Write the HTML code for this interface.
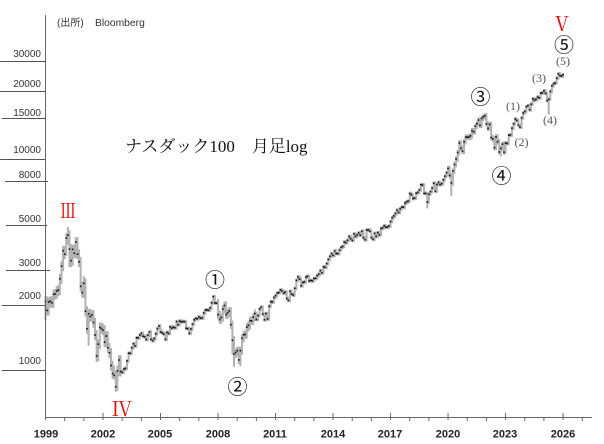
<!DOCTYPE html>
<html>
<head>
<meta charset="utf-8">
<style>
  html,body{margin:0;padding:0;background:#fff;}
  #wrap{position:relative;width:604px;height:444px;overflow:hidden;background:#fff;}
  svg{position:absolute;left:0;top:0;}
  .t{position:absolute;white-space:nowrap;line-height:1;}
  .c{transform:translate(-50%,-50%);}
  .yl{font-family:"Liberation Sans",sans-serif;font-size:10px;color:#333;text-align:right;width:40px;left:1px;transform:translateY(-50%);}
  .xl{font-family:"Liberation Sans",sans-serif;font-size:11px;font-weight:bold;color:#222;}
  .rom{font-family:"Noto Serif CJK JP","Liberation Serif",serif;font-size:20px;color:#f00;}
  .cir{font-family:"Noto Sans CJK JP",sans-serif;font-size:20px;color:#111;}
  .sm{font-family:"Liberation Serif",serif;font-size:12px;color:#555;}
</style>
</head>
<body>
<div id="wrap">
<svg id="chart" width="604" height="444" viewBox="0 0 604 444" xmlns="http://www.w3.org/2000/svg">
  <g id="bars"></g>
  <g stroke="#555" stroke-width="1" fill="none">
    <line x1="0" y1="61.5" x2="45" y2="61.5"/>
    <line x1="0" y1="91.5" x2="45" y2="91.5"/>
    <line x1="2" y1="118.5" x2="45" y2="118.5"/>
    <line x1="0" y1="159.5" x2="45" y2="159.5"/>
    <line x1="5" y1="181.5" x2="48" y2="181.5"/>
    <line x1="6" y1="225.5" x2="47" y2="225.5"/>
    <line x1="6" y1="270.5" x2="50" y2="270.5"/>
    <line x1="2" y1="305.5" x2="45" y2="305.5"/>
    <line x1="2" y1="370.5" x2="45" y2="370.5"/>
  </g>
  <g stroke="#666" stroke-width="1" fill="none">
    <line x1="45.5" y1="15" x2="45.5" y2="417.5"/>
    <line x1="45" y1="417.5" x2="592" y2="417.5"/>
  </g>
  <g id="ticks" stroke="#666" stroke-width="1"></g>
</svg>

<div class="t" style="left:57px;top:19px;font-family:'Liberation Sans','Noto Sans CJK JP',sans-serif;font-size:10px;color:#333;">(出所)</div>
<div class="t" style="left:95px;top:19px;font-family:'Liberation Sans',sans-serif;font-size:10.3px;color:#333;">Bloomberg</div>

<div class="t yl" style="top:55px;">30000</div>
<div class="t yl" style="top:85px;">20000</div>
<div class="t yl" style="top:114px;">15000</div>
<div class="t yl" style="top:151px;">10000</div>
<div class="t yl" style="top:176px;">8000</div>
<div class="t yl" style="top:220px;">5000</div>
<div class="t yl" style="top:264px;">3000</div>
<div class="t yl" style="top:297px;">2000</div>
<div class="t yl" style="top:362px;">1000</div>

<div class="t xl c" style="left:46px;top:435px;">1999</div>
<div class="t xl c" style="left:103px;top:435px;">2002</div>
<div class="t xl c" style="left:160px;top:435px;">2005</div>
<div class="t xl c" style="left:218px;top:435px;">2008</div>
<div class="t xl c" style="left:275px;top:435px;">2011</div>
<div class="t xl c" style="left:333px;top:435px;">2014</div>
<div class="t xl c" style="left:390px;top:435px;">2017</div>
<div class="t xl c" style="left:448px;top:435px;">2020</div>
<div class="t xl c" style="left:505px;top:435px;">2023</div>
<div class="t xl c" style="left:563px;top:435px;">2026</div>

<div class="t" style="left:125px;top:138px;font-family:'Liberation Serif','Noto Serif CJK JP',serif;font-size:17px;color:#111;">ナスダック100　月足log</div>

<div class="t rom" style="left:67.5px;top:210px;transform:translate(-50%,-50%) scaleX(0.78);">Ⅲ</div>
<div class="t rom c" style="left:122px;top:408px;">Ⅳ</div>
<div class="t rom c" style="left:562px;top:23px;">Ⅴ</div>

<div class="t cir c" style="left:215px;top:278.5px;">①</div>
<div class="t cir c" style="left:237.5px;top:386px;">②</div>
<div class="t cir c" style="left:480.5px;top:95.5px;">③</div>
<div class="t cir c" style="left:501.5px;top:175px;">④</div>
<div class="t cir c" style="left:564px;top:44px;">⑤</div>

<div class="t sm c" style="left:513px;top:106px;">(1)</div>
<div class="t sm c" style="left:521.5px;top:142px;">(2)</div>
<div class="t sm c" style="left:539px;top:78px;">(3)</div>
<div class="t sm c" style="left:550px;top:120px;">(4)</div>
<div class="t sm c" style="left:563px;top:61px;">(5)</div>
</div>

<script>
(function(){
  var closes=[
  2127,1925,2106,2131,2090,2296,2305,2380,2407,2721,3130,3708,
  3570,4267,4398,3774,3324,3763,3609,4077,3570,3283,2507,2341,
  2593,1908,1573,1855,1799,1830,1683,1469,1168,1329,1597,1577,
  1550,1359,1452,1277,1208,1051,962,942,832,990,1116,984,
  974,1009,1018,1106,1202,1201,1277,1334,1304,1425,1424,1468,
  1494,1450,1439,1398,1466,1517,1402,1380,1412,1489,1576,1621,
  1519,1504,1483,1400,1512,1494,1605,1581,1601,1590,1702,1645,
  1712,1697,1703,1700,1581,1575,1496,1569,1654,1736,1762,1757,
  1792,1767,1772,1872,1930,1935,1929,1977,2092,2239,2089,2085,
  1837,1739,1781,1953,2030,1837,1873,1911,1645,1385,1191,1212,
  1237,1118,1237,1418,1474,1477,1600,1632,1720,1716,1787,1860,
  1742,1819,1956,1995,1849,1736,1859,1752,2014,2120,2111,2218,
  2264,2331,2339,2409,2383,2322,2351,2195,2148,2373,2305,2278,
  2453,2677,2779,2713,2522,2616,2632,2772,2800,2660,2677,2661,
  2731,2739,2819,2866,2978,2910,3106,3087,3218,3372,3486,3592,
  3521,3697,3596,3591,3736,3850,3885,4082,4050,4158,4334,4236,
  4151,4459,4334,4414,4509,4397,4590,4274,4182,4649,4664,4593,
  4279,4202,4484,4341,4523,4418,4730,4771,4875,4801,4810,4864,
  5111,5330,5436,5584,5788,5647,5880,5988,5979,6248,6338,6397,
  6950,6854,6581,6605,6967,7040,7232,7651,7628,6967,6949,6330,
  6906,7097,7378,7781,7128,7671,7848,7663,7750,8083,8403,8733,
  9151,8461,7813,8890,9555,10157,10905,12111,11418,11052,12268,12888,
  12925,12909,13091,13861,13686,14554,14960,15583,14690,15850,16135,16320,
  14930,14237,14839,12855,12643,11503,12947,12272,10971,11406,11952,10940,
  12102,12043,13181,13246,14254,14945,15758,15501,14715,14410,15947,16826,
  17137,18044,18255,17441,18537,19683,19362,19575,20061,19890,20930,21012,
  21478,20885,19278,19571,21341,22679,23218,23415,24680,25858,25400,25250,
  25600];
  var ov={13:[4420,3500],14:[4816,3950],15:[4400,3100],16:[3800,3100],24:[2800,2200],27:[1950,1306],
          32:[1500,1090],43:[1050,900],45:[1050,795],117:[1700,1190],118:[1450,1036],122:[1260,1043],
          239:[7000,5896],254:[8650,6771],285:[11800,10440],315:[20000,16542]};
  function Y(v){return 370-(Math.log(v)/Math.LN10-3)*209.6;}
  function X(m){return 45.5+m*1.5975;}
  var g=document.getElementById("bars");
  var prev=1836;
  var html="";
  for(var m=0;m<closes.length;m++){
    var c=closes[m],o=prev;
    var yr=1999+Math.floor(m/12);
    var r=0.02;
    if(yr<=2002) r=0.055; else if(yr==2008||yr==2009) r=0.045; else if(yr>=2020&&yr<=2022) r=0.03;
    var h=Math.max(o,c)*(1+r), l=Math.min(o,c)*(1-r);
    if(ov[m]){h=Math.max(h,ov[m][0]);l=ov[m][1];}
    var x=X(m), yh=Y(h), yl=Y(l);
    html+='<rect x="'+(x-1).toFixed(2)+'" y="'+yh.toFixed(2)+'" width="2" height="'+(yl-yh).toFixed(2)+'" fill="#b2b2b2"/>';
    prev=c;
  }
  for(var m=0;m<closes.length;m++){
    var x=X(m), yc=Y(closes[m]);
    html+='<rect x="'+(x-0.8).toFixed(2)+'" y="'+(yc-0.8).toFixed(2)+'" width="1.6" height="1.6" fill="#111"/>';
  }
  g.innerHTML=html;
  var t=document.getElementById("ticks"), th="";
  for(var k=0;k<=28;k++){
    var x=(45.5+k*19.17).toFixed(2);
    if(k%3==0) th+='<line x1="'+x+'" y1="413" x2="'+x+'" y2="420"/>';
    else th+='<line x1="'+x+'" y1="417" x2="'+x+'" y2="421"/>';
  }
  t.innerHTML=th;
})();
</script>
</body>
</html>
